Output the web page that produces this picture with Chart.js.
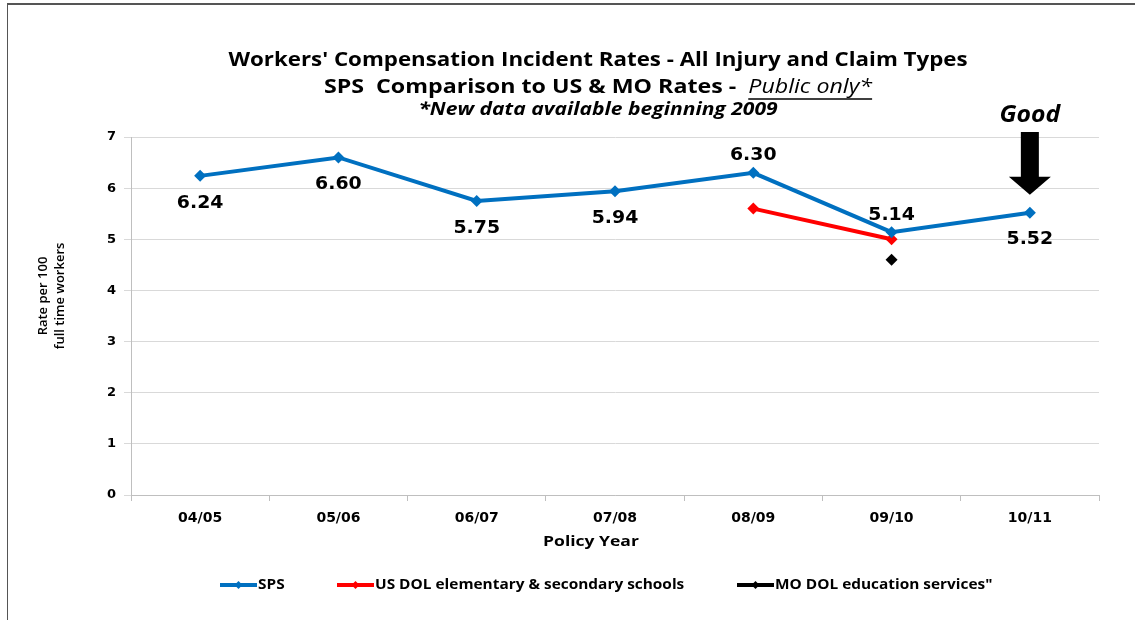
<!DOCTYPE html>
<html>
<head>
<meta charset="utf-8">
<script src="https://cdn.jsdelivr.net/npm/chart.js@4.4.0/dist/chart.umd.min.js"></script>
<style>
  html, body { margin: 0; padding: 0; background: #fff; }
  #wrap { width: 1135px; height: 620px; }
</style>
</head>
<body>
<div id="wrap"><canvas id="chart" width="1135" height="620"></canvas></div>
<script>
// ===== DATA =====
const years = ['04/05', '05/06', '06/07', '07/08', '08/09', '09/10', '10/11'];
const spsRates = [6.24, 6.60, 5.75, 5.94, 6.30, 5.14, 5.52];
const usDolRates = [null, null, null, null, 5.6, 5.0, null];
const moDolRates = [null, null, null, null, null, 4.6, null];
const yTicks = [0, 1, 2, 3, 4, 5, 6, 7];
const seriesNames = ['SPS', 'US DOL elementary & secondary schools', 'MO DOL education services"'];

// where each SPS value label sits
const spsLabelSide = ['below', 'below', 'below', 'below', 'above', 'above', 'below'];

const BLUE = '#0070c0';
const RED = '#ff0000';
const BLACK = '#000000';

function diamond(ctx, x, y, r, color) {
  ctx.fillStyle = color;
  ctx.beginPath();
  ctx.moveTo(x, y - r);
  ctx.lineTo(x + r, y);
  ctx.lineTo(x, y + r);
  ctx.lineTo(x - r, y);
  ctx.closePath();
  ctx.fill();
}

// the original chart is stretched sideways, so text gets a horizontal scale
function wideText(ctx, text, x, y, sx) {
  ctx.save();
  ctx.translate(x, y);
  ctx.scale(sx, 1);
  ctx.fillText(text, 0, 0);
  ctx.restore();
}

// ===== EXTRA DRAWING (frame, titles, labels, arrow, legend) =====
const decorPlugin = {
  id: 'decor',
  afterDraw(chart) {
    const ctx = chart.ctx;
    const area = chart.chartArea;
    ctx.save();

    // frame on top and left
    ctx.strokeStyle = '#555';
    ctx.lineWidth = 2;
    ctx.beginPath();
    ctx.moveTo(1135, 4);
    ctx.lineTo(7, 4);
    ctx.stroke();
    ctx.lineWidth = 1;
    ctx.beginPath();
    ctx.moveTo(7.5, 4);
    ctx.lineTo(7.5, 620);
    ctx.stroke();

    // titles
    const cx = 598;
    ctx.fillStyle = '#000';
    ctx.textBaseline = 'middle';
    ctx.textAlign = 'center';
    ctx.font = 'bold 20px "Open Sans"';
    wideText(ctx, "Workers' Compensation Incident Rates - All Injury and Claim Types", cx, 60, 1.115);

    const partA = 'SPS  Comparison to US & MO Rates -  ';
    const partB = 'Public only*';
    const sx2 = 1.16;
    ctx.font = 'bold 20px "Open Sans"';
    const wA = ctx.measureText(partA).width * sx2;
    ctx.font = 'italic 20px "Open Sans"';
    const wB = ctx.measureText(partB).width * sx2;
    const x0 = cx - (wA + wB) / 2;
    ctx.textAlign = 'left';
    ctx.font = 'bold 20px "Open Sans"';
    wideText(ctx, partA, x0, 87, sx2);
    ctx.font = 'italic 20px "Open Sans"';
    wideText(ctx, partB, x0 + wA, 87, sx2);
    ctx.strokeStyle = '#000';
    ctx.lineWidth = 1.5;
    ctx.beginPath();
    ctx.moveTo(x0 + wA, 99);
    ctx.lineTo(x0 + wA + wB, 99);
    ctx.stroke();

    ctx.textAlign = 'center';
    ctx.font = 'italic bold 18px "Open Sans"';
    wideText(ctx, '*New data available beginning 2009', cx, 110, 1.17);

    // axis titles
    ctx.font = 'bold 14px "Open Sans"';
    wideText(ctx, 'Policy Year', 591, 542, 1.25);
    ctx.save();
    ctx.translate(0, 296);
    ctx.rotate(-Math.PI / 2);
    ctx.font = '600 13px "Open Sans"';
    ctx.fillText('Rate per 100', 0, 43);
    ctx.fillText('full time workers', 0, 60);
    ctx.restore();

    // SPS value labels
    const meta = chart.getDatasetMeta(0);
    ctx.font = 'bold 18px "DejaVu Sans"';
    meta.data.forEach((pt, i) => {
      const dy = spsLabelSide[i] === 'below' ? 27 : -17;
      wideText(ctx, spsRates[i].toFixed(2), pt.x, pt.y + dy, 1.05);
    });

    // "Good" arrow over the last point
    const last = meta.data[meta.data.length - 1];
    const ax = last.x;
    const tip = last.y - 18;
    const top = area.top - 5;
    ctx.fillStyle = '#000';
    ctx.beginPath();
    ctx.moveTo(ax - 9, top);
    ctx.lineTo(ax + 9, top);
    ctx.lineTo(ax + 9, tip - 18);
    ctx.lineTo(ax + 21, tip - 18);
    ctx.lineTo(ax, tip);
    ctx.lineTo(ax - 21, tip - 18);
    ctx.lineTo(ax - 9, tip - 18);
    ctx.closePath();
    ctx.fill();
    ctx.font = 'italic bold 24px "Open Sans"';
    wideText(ctx, 'Good', ax, 115, 1.03);

    // legend
    const legendX = [220, 337, 737];
    const colors = [BLUE, RED, BLACK];
    const ly = 585;
    ctx.textAlign = 'left';
    ctx.font = 'bold 14px "Open Sans"';
    legendX.forEach((lx, i) => {
      ctx.strokeStyle = colors[i];
      ctx.lineWidth = 4;
      ctx.beginPath();
      ctx.moveTo(lx, ly);
      ctx.lineTo(lx + 37, ly);
      ctx.stroke();
      diamond(ctx, lx + 18.5, ly, 4, colors[i]);
      ctx.fillStyle = '#000';
      wideText(ctx, seriesNames[i], lx + 38, ly, 1.1);
    });

    ctx.restore();
  }
};

// ===== CHART =====
const ctx = document.getElementById('chart').getContext('2d');

new Chart(ctx, {
  type: 'line',
  data: {
    labels: years,
    datasets: [
      {
        label: seriesNames[0],
        data: spsRates,
        borderColor: BLUE,
        backgroundColor: BLUE,
        borderWidth: 4,
        pointStyle: 'rectRot',
        pointRadius: 6,
        pointBorderWidth: 0,
        tension: 0
      },
      {
        label: seriesNames[1],
        data: usDolRates,
        borderColor: RED,
        backgroundColor: RED,
        borderWidth: 4,
        pointStyle: 'rectRot',
        pointRadius: 6,
        pointBorderWidth: 0,
        tension: 0
      },
      {
        label: seriesNames[2],
        data: moDolRates,
        borderColor: BLACK,
        backgroundColor: BLACK,
        borderWidth: 4,
        showLine: false,
        pointStyle: 'rectRot',
        pointRadius: 6,
        pointBorderWidth: 0
      }
    ]
  },
  options: {
    responsive: false,
    animation: false,
    layout: { padding: { left: 10, top: 137, right: 36, bottom: 65 } },
    plugins: {
      legend: { display: false },
      tooltip: { enabled: false }
    },
    scales: {
      x: {
        offset: true,
        afterFit: s => { s.height = 60; },
        grid: { offset: true, drawOnChartArea: false, tickLength: 6, color: '#bfbfbf' },
        border: { color: '#bfbfbf' },
        ticks: {
          color: '#000',
          padding: 9,
          maxRotation: 0,
          font: { family: 'DejaVu Sans', weight: 'bold', size: 14 }
        }
      },
      y: {
        min: 0,
        max: 7,
        afterFit: s => { s.width = 121; },
        afterBuildTicks: s => { s.ticks = yTicks.map(v => ({ value: v })); },
        grid: { color: '#d9d9d9', tickLength: 7 },
        border: { color: '#bfbfbf' },
        ticks: {
          color: '#000',
          padding: 8,
          font: { family: 'DejaVu Sans', weight: 'bold', size: 13 }
        }
      }
    }
  },
  plugins: [decorPlugin]
});
</script>
</body>
</html>
